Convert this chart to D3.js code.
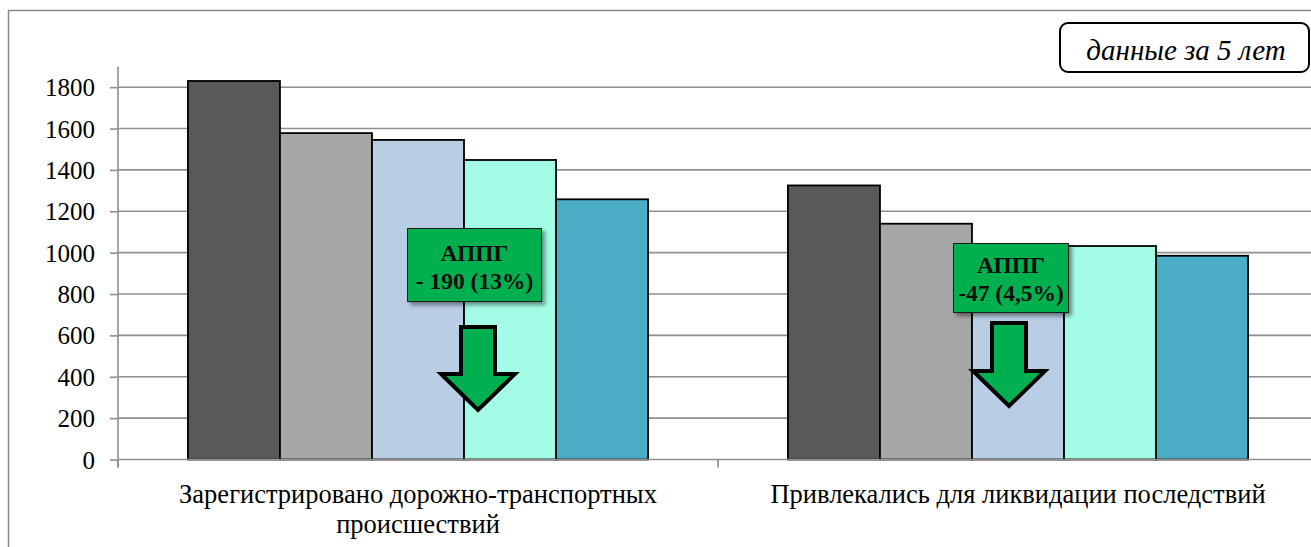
<!DOCTYPE html>
<html><head><meta charset="utf-8">
<script src="https://cdn.jsdelivr.net/npm/d3@7"></script>
</head>
<body><svg id="c" width="1311" height="547"></svg>
<script>
// ---- data ----
const categories = ["Зарегистрировано дорожно-транспортных происшествий", "Привлекались для ликвидации последствий"];
const seriesKeys = ["s1", "s2", "s3", "s4", "s5"];
const seriesColors = ["#595959", "#a6a6a6", "#b9cde5", "#a3fde6", "#4bacc6"];
const valuesAccidents = [1830, 1578, 1545, 1448, 1258];
const valuesInvolved = [1325, 1140, 1035, 1032, 985];
const yTicks = [0, 200, 400, 600, 800, 1000, 1200, 1400, 1600, 1800];
const badgeLines = [["АППГ", "- 190 (13%)"], ["АППГ", "-47 (4,5%)"]];
const noteText = "данные за 5 лет";

const table = categories.map((c, i) => ({
  category: c,
  values: seriesKeys.map((k, j) => ({key: k, value: (i === 0 ? valuesAccidents : valuesInvolved)[j]}))
}));

d3.select("body").style("margin", "0px").style("background", "#fff");
const FONT = "'Liberation Serif'";
const svg = d3.select("#c").style("display", "block");
const W = 1311;
const plotLeft = 118, plotBottom = 459.5, plotTop = 66.5;

// outer chart border (cropped on right/bottom)
svg.append("path").attr("d", `M8.5,${547} L8.5,10.5 L${W},10.5`)
  .attr("fill", "none").attr("stroke", "#8a8a8a").attr("stroke-width", 1.5);

const x0 = d3.scaleBand().domain(categories).range([plotLeft, plotLeft + 1200]).padding(0);
const x1 = d3.scaleBand().domain(seriesKeys).range([0, x0.bandwidth()]).paddingInner(0).paddingOuter(0.76);
const y = d3.scaleLinear().domain([0, 1900]).range([plotBottom, plotTop]);
const color = d3.scaleOrdinal().domain(seriesKeys).range(seriesColors);

// gridlines
svg.append("g").selectAll("line").data(yTicks.filter(t => t > 0)).join("line")
  .attr("x1", plotLeft).attr("x2", W).attr("y1", d => y(d)).attr("y2", d => y(d))
  .attr("stroke", "#8f8f8f").attr("stroke-width", 1.6);

// bars
const groups = svg.append("g").selectAll("g").data(table).join("g")
  .attr("transform", d => `translate(${x0(d.category)},0)`);
groups.selectAll("rect").data(d => d.values).join("rect")
  .attr("x", d => x1(d.key)).attr("width", x1.bandwidth())
  .attr("y", d => y(d.value)).attr("height", d => y(0) - y(d.value))
  .attr("fill", d => color(d.key)).attr("stroke", "#000").attr("stroke-width", 1.8);

// y axis
const yAxis = svg.append("g").attr("transform", `translate(${plotLeft},0)`)
  .call(d3.axisLeft(y).tickValues(yTicks).tickSize(8).tickSizeOuter(0).tickPadding(15).tickFormat(d3.format("d")));
yAxis.attr("font-family", null).attr("font-size", null);
yAxis.select(".domain").remove();
yAxis.selectAll(".tick line").attr("stroke", "#8f8f8f").attr("stroke-width", 1.6);
yAxis.selectAll(".tick text").style("font-family", FONT).style("font-size", "25px").attr("fill", "#000").attr("dy", "0.34em");
svg.append("line").attr("x1", plotLeft).attr("x2", plotLeft).attr("y1", plotTop).attr("y2", plotBottom + 8)
  .attr("stroke", "#8f8f8f").attr("stroke-width", 1.6);

// x axis
svg.append("line").attr("x1", plotLeft).attr("x2", W).attr("y1", plotBottom).attr("y2", plotBottom)
  .attr("stroke", "#8f8f8f").attr("stroke-width", 1.6);
svg.append("g").selectAll("line").data(categories).join("line")
  .attr("x1", d => x0(d)).attr("x2", d => x0(d)).attr("y1", plotBottom).attr("y2", plotBottom + 8)
  .attr("stroke", "#8f8f8f").attr("stroke-width", 1.6);

// category labels (wrapped)
const catText = svg.append("g").selectAll("text").data(categories).join("text")
  .attr("x", d => x0(d) + x0.bandwidth() / 2).attr("y", 503)
  .attr("text-anchor", "middle").style("font-size", "26.5px").style("font-family", FONT).attr("fill", "#000");
catText.each(function(d) {
  const t = d3.select(this);
  const words = d.split(" ");
  let line = [];
  let ts = t.append("tspan").attr("x", t.attr("x")).attr("dy", 0);
  for (const w of words) {
    line.push(w);
    ts.text(line.join(" "));
    if (ts.node().getComputedTextLength() > 560 && line.length > 1) {
      line.pop(); ts.text(line.join(" "));
      line = [w];
      ts = t.append("tspan").attr("x", t.attr("x")).attr("dy", 30).text(w);
    }
  }
});

// shadow filter
const defs = svg.append("defs");
const f = defs.append("filter").attr("id", "sh").attr("x", "-20%").attr("y", "-20%").attr("width", "150%").attr("height", "150%");
f.append("feGaussianBlur").attr("in", "SourceAlpha").attr("stdDeviation", 2);
f.append("feOffset").attr("dx", 3).attr("dy", 3).attr("result", "b");
f.append("feComponentTransfer").append("feFuncA").attr("type", "linear").attr("slope", 0.45);
const fm = f.append("feMerge"); fm.append("feMergeNode"); fm.append("feMergeNode").attr("in", "SourceGraphic");

// annotations: badges and arrows (layout positions)
const badgeBoxes = [{x: 407.5, y: 228.5, w: 134, h: 73, l1: 261, l2: 288.5}, {x: 953.5, y: 243.5, w: 115, h: 69, l1: 273, l2: 300.5}];
const arrows = [{cx: 478, top: 327, headY: 374, tip: 410, sw: 17, hw: 37}, {cx: 1009, top: 323, headY: 371, tip: 406, sw: 17, hw: 36}];

arrows.forEach(a => {
  const p = `M${a.cx - a.sw},${a.top} L${a.cx + a.sw},${a.top} L${a.cx + a.sw},${a.headY} L${a.cx + a.hw},${a.headY} L${a.cx},${a.tip} L${a.cx - a.hw},${a.headY} L${a.cx - a.sw},${a.headY} Z`;
  svg.append("path").attr("d", p).attr("fill", "#00b050").attr("stroke", "#000").attr("stroke-width", 4).attr("stroke-linejoin", "miter");
});

badgeBoxes.forEach((b, i) => {
  svg.append("rect").attr("x", b.x).attr("y", b.y).attr("width", b.w).attr("height", b.h)
    .attr("fill", "#00b050").attr("stroke", "#1a1a1a").attr("stroke-width", 1).attr("filter", "url(#sh)");
  [b.l1, b.l2].forEach((yy, k) => {
    svg.append("text").attr("x", b.x + b.w / 2).attr("y", yy).attr("text-anchor", "middle")
      .style("font-size", "23.5px").style("font-weight", "bold").style("font-family", FONT).attr("fill", "#0d0d0d").text(badgeLines[i][k]);
  });
});

// note box
svg.append("rect").attr("x", 1060).attr("y", 23).attr("width", 249).attr("height", 49).attr("rx", 8)
  .attr("fill", "#fff").attr("stroke", "#000").attr("stroke-width", 2);
svg.append("text").attr("x", 1186).attr("y", 60).attr("text-anchor", "middle")
  .style("font-size", "29px").style("font-style", "italic").style("font-family", FONT).attr("fill", "#000").text(noteText);
</script></body></html>
